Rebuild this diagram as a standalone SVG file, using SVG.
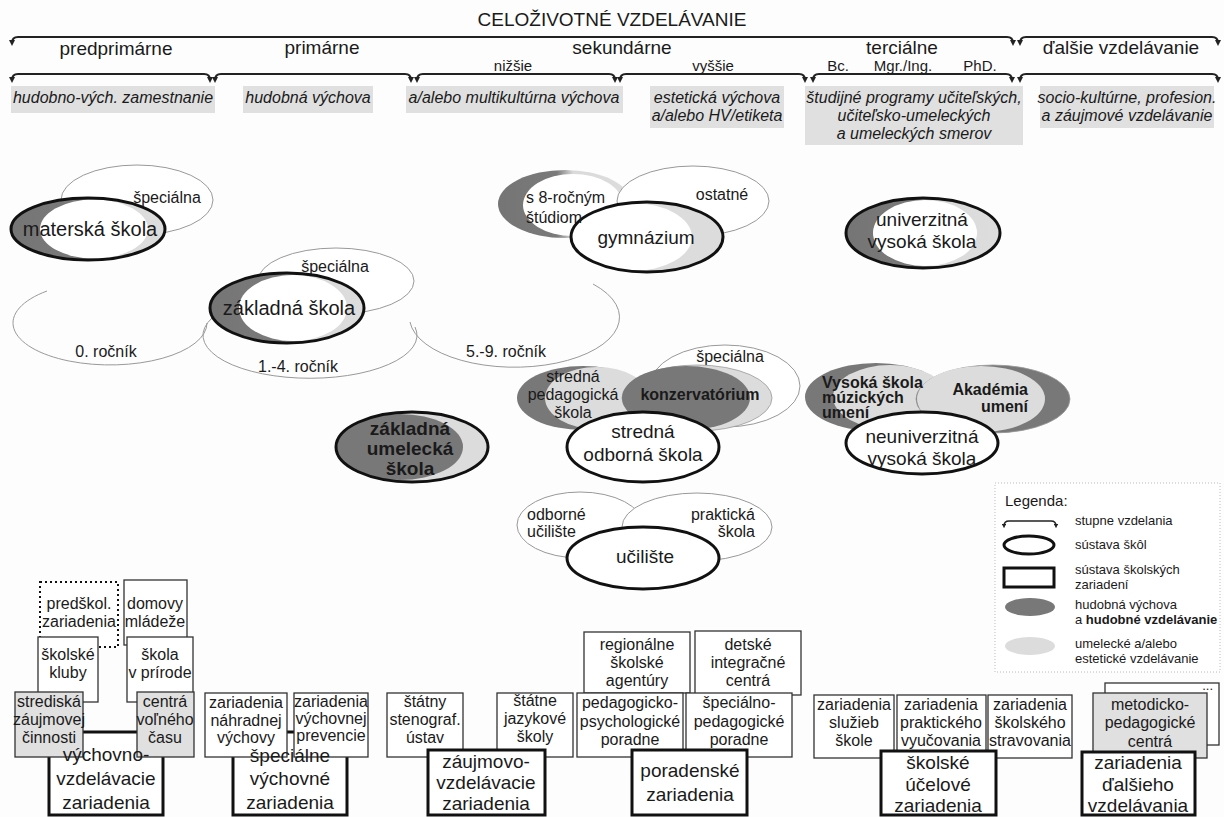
<svg xmlns="http://www.w3.org/2000/svg" width="1224" height="817" viewBox="0 0 1224 817">
<defs>
<style>
text{font-family:"Liberation Sans",Arial,sans-serif;fill:#1a1a1a}
.c{text-anchor:middle}
.e{text-anchor:end}
.h19{font-size:19px}
.h15{font-size:15px}
.i{font-style:italic;font-size:16px;text-anchor:middle}
.s16{font-size:16px}
.s19{font-size:19px;text-anchor:middle}
.s13{font-size:13px}
.b{font-weight:bold}
.brace{fill:none;stroke:#222;stroke-width:2;marker-start:url(#ah);marker-end:url(#ah)}
.band{fill:#e0e0e0}
.thin{fill:#fff;stroke:#999;stroke-width:1}
.arc{fill:none;stroke:#999;stroke-width:1}
.ol{fill:none;stroke:#111;stroke-width:3}
.wb{fill:#fff;stroke:#111;stroke-width:3}
.dark{fill:#787878}
.light{fill:#dcdcdc}
.white{fill:#fff}
.gl{stroke:#999;stroke-width:0.8}
.box{fill:#fff;stroke:#333;stroke-width:1.3}
.gbox{fill:#e0e0e0;stroke:#333;stroke-width:1.3}
.tbox{fill:#fff;stroke:#111;stroke-width:3}
</style>
<marker id="ah" viewBox="0 0 6 6" refX="3" refY="3" markerWidth="3" markerHeight="3" orient="auto-start-reverse"><path d="M0,0 L6,3 L0,6 z" fill="#222"/></marker>
<linearGradient id="dl" x1="0" x2="1" y1="0" y2="0"><stop offset="0" stop-color="#757575"/><stop offset="0.44" stop-color="#7a7a7a"/><stop offset="0.56" stop-color="#dadada"/><stop offset="1" stop-color="#dddddd"/></linearGradient>
</defs>
<rect width="1224" height="817" fill="#fdfdfd"/>

<text x="612" y="26" class="c h19">CELOŽIVOTNÉ VZDELÁVANIE</text>

<g id="connectors">
<path class="brace" d="M12,43 Q12,37 18,37 H1007 Q1013,37 1013,43"/>
<path class="brace" d="M1020,43 Q1020,37 1026,37 H1212 Q1218,37 1218,43"/>
<path class="brace" d="M12,80 Q12,74 18,74 H204 Q210,74 210,80"/>
<path class="brace" d="M215,80 Q215,74 221,74 H405 Q411,74 411,80"/>
<path class="brace" d="M417,80 Q417,74 423,74 H609 Q615,74 615,80"/>
<path class="brace" d="M620,80 Q620,74 626,74 H799 Q805,74 805,80"/>
<path class="brace" d="M813,80 Q813,74 819,74 H1006 Q1012,74 1012,80"/>
<path class="brace" d="M1020,80 Q1020,74 1026,74 H1212 Q1218,74 1218,80"/>
</g>

<g id="levels">
<text x="116" y="55" class="c h19">predprimárne</text>
<text x="322" y="54" class="c h19">primárne</text>
<text x="622" y="54" class="c h19">sekundárne</text>
<text x="902" y="54" class="c h19">terciálne</text>
<text x="1121" y="54" class="c h19">ďalšie vzdelávanie</text>
<text x="513" y="71" class="c h15">nižšie</text>
<text x="713" y="71" class="c h15">vyššie</text>
<text x="838" y="71" class="c h15">Bc.</text>
<text x="903" y="71" class="c h15">Mgr./Ing.</text>
<text x="980" y="71" class="c h15">PhD.</text>
</g>

<g id="bands">
<rect class="band" x="11" y="86" width="204" height="27"/>
<text x="113" y="103" class="i">hudobno-vých. zamestnanie</text>
<rect class="band" x="243" y="86" width="130" height="27"/>
<text x="308" y="103" class="i">hudobná výchova</text>
<rect class="band" x="406" y="86" width="217" height="27"/>
<text x="514" y="103" class="i">a/alebo multikultúrna výchova</text>
<rect class="band" x="650" y="86" width="134" height="42"/>
<text x="717" y="103" class="i">estetická výchova</text>
<text x="717" y="121" class="i">a/alebo HV/etiketa</text>
<rect class="band" x="805" y="86" width="218" height="59"/>
<text x="914" y="103" class="i">študijné programy učiteľských,</text>
<text x="914" y="121" class="i">učiteľsko-umeleckých</text>
<text x="914" y="139" class="i">a umeleckých smerov</text>
<rect class="band" x="1040" y="86" width="174" height="42"/>
<text x="1127" y="103" class="i">socio-kultúrne, profesion.</text>
<text x="1127" y="121" class="i">a záujmové vzdelávanie</text>
</g>

<g id="rocniky">
<path class="arc" d="M47,291 A97,42 0 1 0 207,323"/>
<text x="106" y="357" class="c s16">0. ročník</text>
<path class="arc" d="M212,318 A107,43 0 1 0 415,327"/>
<text x="298" y="372" class="c s16">1.-4. ročník</text>
<path class="arc" d="M593,284 A105,50 0 1 1 410,322"/>
<text x="506" y="357" class="c s16">5.-9. ročník</text>
</g>

<g id="materska">
<ellipse class="thin" cx="137" cy="200" rx="76" ry="35"/>
<text x="167" y="203" class="c s16">špeciálna</text>
<ellipse cx="88" cy="229" rx="77" ry="31" fill="url(#dl)"/>
<ellipse class="white" cx="94" cy="229" rx="54" ry="29.5"/>
<ellipse class="ol" cx="88" cy="229" rx="77" ry="31"/>
<text x="90" y="236" class="c" font-size="20">materská škola</text>
</g>

<g id="zakladna">
<ellipse class="thin" cx="336" cy="281" rx="78" ry="33"/>
<text x="335" y="272" class="c s16">špeciálna</text>
<ellipse cx="287" cy="308" rx="77" ry="35" fill="url(#dl)"/>
<ellipse class="white" cx="293" cy="308" rx="54" ry="33"/>
<ellipse class="ol" cx="287" cy="308" rx="77" ry="35"/>
<text x="289" y="315" class="c" font-size="20">základná škola</text>
</g>

<g id="gymnazium">
<ellipse cx="565" cy="204" rx="67" ry="34" fill="url(#dl)"/>
<ellipse class="white" cx="573" cy="205" rx="50" ry="31"/>
<ellipse class="thin" cx="693" cy="201" rx="76" ry="35"/>
<text x="722" y="200" class="c s16">ostatné</text>
<ellipse class="light" cx="647" cy="237" rx="76" ry="35"/>
<ellipse class="white" cx="632" cy="237" rx="60" ry="34"/>
<ellipse class="ol" cx="647" cy="237" rx="76" ry="35"/>
<text x="646" y="244" class="s19">gymnázium</text>
<text x="526" y="203" class="s16">s 8-ročným</text>
<text x="526" y="223" class="s16">štúdiom</text>
</g>

<g id="univerzitna">
<ellipse cx="923" cy="233" rx="77" ry="35" fill="url(#dl)"/>
<ellipse class="white" cx="925" cy="233" rx="52" ry="33"/>
<ellipse class="ol" cx="923" cy="233" rx="77" ry="35"/>
<text x="922" y="226" class="s19">univerzitná</text>
<text x="922" y="248" class="s19">vysoká škola</text>
</g>

<g id="stredne">
<ellipse class="thin" cx="725" cy="386" rx="75" ry="41"/>
<text x="730" y="362" class="c s16">špeciálna</text>
<ellipse class="dark" cx="583" cy="398" rx="66" ry="32"/>
<ellipse class="light" cx="597" cy="398" rx="52" ry="31"/>
<ellipse class="light gl" cx="697" cy="398" rx="75" ry="33"/>
<ellipse class="dark" cx="686" cy="398" rx="64" ry="32"/>
<text x="573" y="382" class="c s16">stredná</text>
<text x="573" y="400" class="c s16">pedagogická</text>
<text x="573" y="418" class="c s16">škola</text>
<text x="700" y="400" class="c s16 b">konzervatórium</text>
<ellipse class="wb" cx="643" cy="447" rx="76" ry="35"/>
<text x="643" y="438" class="s19">stredná</text>
<text x="643" y="461" class="s19">odborná škola</text>
</g>

<g id="neuniverzitna">
<ellipse class="dark" cx="876" cy="397" rx="71" ry="34"/>
<ellipse class="light" cx="890" cy="397" rx="57" ry="32"/>
<ellipse class="dark gl" cx="993" cy="399" rx="77" ry="34"/>
<ellipse class="light" cx="981" cy="399" rx="64" ry="33"/>
<text x="822" y="388" class="s16 b">Vysoká škola</text>
<text x="822" y="403" class="s16 b">múzických</text>
<text x="822" y="418" class="s16 b">umení</text>
<text x="1028" y="395" class="e s16 b">Akadémia</text>
<text x="1028" y="412" class="e s16 b">umení</text>
<ellipse class="wb" cx="922" cy="443" rx="76" ry="31"/>
<text x="922" y="443" class="s19">neuniverzitná</text>
<text x="922" y="465" class="s19">vysoká škola</text>
</g>

<g id="zus">
<ellipse class="light" cx="412" cy="447" rx="76" ry="35"/>
<ellipse class="dark" cx="400" cy="447" rx="63" ry="33"/>
<ellipse class="ol" cx="412" cy="447" rx="76" ry="35"/>
<text x="410" y="435" class="s19 b">základná</text>
<text x="410" y="455" class="s19 b">umelecká</text>
<text x="410" y="475" class="s19 b">škola</text>
</g>

<g id="uciliste">
<ellipse class="thin" cx="580" cy="525" rx="63" ry="33"/>
<ellipse class="thin" cx="697" cy="527" rx="75" ry="34"/>
<text x="527" y="520" class="s16">odborné</text>
<text x="527" y="537" class="s16">učilište</text>
<text x="755" y="520" class="e s16">praktická</text>
<text x="755" y="537" class="e s16">škola</text>
<ellipse class="wb" cx="643" cy="558" rx="76" ry="31"/>
<text x="645" y="563" class="s19">učilište</text>
</g>

<g id="legend">
<rect x="995" y="483" width="225" height="189" fill="#fff" stroke="#bbb" stroke-width="1" stroke-dasharray="1 2"/>
<text x="1005" y="506" class="h15">Legenda:</text>
<path class="brace" style="stroke-width:1.5" d="M1004,526 Q1004,521 1009,521 H1051 Q1056,521 1056,526"/>
<text x="1075" y="525" class="s13">stupne vzdelania</text>
<ellipse class="ol" cx="1029" cy="545" rx="25" ry="9"/>
<text x="1075" y="549" class="s13">sústava škôl</text>
<rect class="ol" x="1004" y="568" width="50" height="19"/>
<text x="1075" y="574" class="s13">sústava školských</text>
<text x="1075" y="589" class="s13">zariadení</text>
<ellipse class="dark" cx="1030" cy="607" rx="25" ry="9"/>
<text x="1075" y="609" class="s13">hudobná výchova</text>
<text x="1075" y="624" class="s13">a <tspan class="b">hudobné vzdelávanie</tspan></text>
<ellipse class="light" cx="1030" cy="646" rx="25" ry="9"/>
<text x="1075" y="648" class="s13">umelecké a/alebo</text>
<text x="1075" y="663" class="s13">estetické vzdelávanie</text>
</g>

<g id="vychovno">
<rect class="tbox" x="49" y="732" width="114" height="83"/>
<rect x="40" y="582" width="78" height="65" fill="#fff" stroke="#111" stroke-width="2" stroke-dasharray="2 3"/>
<text x="79" y="609" class="c s16">predškol.</text>
<text x="79" y="627" class="c s16">zariadenia</text>
<rect class="box" x="124" y="580" width="63" height="65"/>
<text x="155" y="609" class="c s16">domovy</text>
<text x="155" y="627" class="c s16">mládeže</text>
<rect class="box" x="38" y="637" width="60" height="65"/>
<text x="68" y="660" class="c s16">školské</text>
<text x="68" y="678" class="c s16">kluby</text>
<rect class="box" x="127" y="637" width="66" height="65"/>
<text x="160" y="660" class="c s16">škola</text>
<text x="160" y="678" class="c s16">v prírode</text>
<rect class="gbox" x="15" y="692" width="68" height="65"/>
<text x="49" y="707" class="c s16">strediská</text>
<text x="49" y="725" class="c s16">záujmovej</text>
<text x="49" y="743" class="c s16">činnosti</text>
<rect class="gbox" x="137" y="692" width="57" height="65"/>
<text x="165" y="707" class="c s16">centrá</text>
<text x="165" y="725" class="c s16">voľného</text>
<text x="165" y="743" class="c s16">času</text>
<text x="106" y="761" class="s19">výchovno-</text>
<text x="106" y="785" class="s19">vzdelávacie</text>
<text x="106" y="809" class="s19">zariadenia</text>
</g>

<g id="specialne">
<rect class="tbox" x="233" y="732" width="114" height="83"/>
<rect class="box" x="205" y="693" width="82" height="64"/>
<text x="246" y="708" class="c s16">zariadenia</text>
<text x="246" y="726" class="c s16">náhradnej</text>
<text x="246" y="743" class="c s16">výchovy</text>
<rect class="box" x="294" y="693" width="74" height="64"/>
<text x="331" y="707" class="c s16">zariadenia</text>
<text x="331" y="724" class="c s16">výchovnej</text>
<text x="331" y="741" class="c s16">prevencie</text>
<text x="290" y="762" class="s19">špeciálne</text>
<text x="290" y="785" class="s19">výchovné</text>
<text x="290" y="809" class="s19">zariadenia</text>
</g>

<g id="zaujmovo">
<rect class="box" x="387" y="693" width="76" height="64"/>
<text x="425" y="707" class="c s16">štátny</text>
<text x="425" y="725" class="c s16">stenograf.</text>
<text x="425" y="743" class="c s16">ústav</text>
<rect class="box" x="497" y="693" width="76" height="64"/>
<text x="535" y="706" class="c s16">štátne</text>
<text x="535" y="724" class="c s16">jazykové</text>
<text x="535" y="742" class="c s16">školy</text>
<rect class="tbox" x="428" y="750" width="117" height="65"/>
<text x="486" y="768" class="s19">záujmovo-</text>
<text x="486" y="789" class="s19">vzdelávacie</text>
<text x="486" y="810" class="s19">zariadenia</text>
</g>

<g id="poradenske">
<rect class="box" x="584" y="632" width="106" height="61"/>
<text x="637" y="650" class="c s16">regionálne</text>
<text x="637" y="668" class="c s16">školské</text>
<text x="637" y="686" class="c s16">agentúry</text>
<rect class="box" x="695" y="631" width="106" height="64"/>
<text x="748" y="650" class="c s16">detské</text>
<text x="748" y="668" class="c s16">integračné</text>
<text x="748" y="686" class="c s16">centrá</text>
<rect class="box" x="577" y="693" width="106" height="64"/>
<text x="630" y="708" class="c s16">pedagogicko-</text>
<text x="630" y="727" class="c s16">psychologické</text>
<text x="630" y="745" class="c s16">poradne</text>
<rect class="box" x="686" y="693" width="106" height="64"/>
<text x="739" y="708" class="c s16">špeciálno-</text>
<text x="739" y="727" class="c s16">pedagogické</text>
<text x="739" y="745" class="c s16">poradne</text>
<rect class="tbox" x="632" y="750" width="115" height="65"/>
<text x="690" y="777" class="s19">poradenské</text>
<text x="690" y="801" class="s19">zariadenia</text>
</g>

<g id="ucelove">
<rect class="box" x="814" y="695" width="80" height="63"/>
<text x="854" y="710" class="c s16">zariadenia</text>
<text x="854" y="728" class="c s16">služieb</text>
<text x="854" y="746" class="c s16">škole</text>
<rect class="box" x="897" y="695" width="89" height="63"/>
<text x="941" y="710" class="c s16">zariadenia</text>
<text x="941" y="728" class="c s16">praktického</text>
<text x="941" y="746" class="c s16">vyučovania</text>
<rect class="box" x="988" y="695" width="84" height="63"/>
<text x="1030" y="710" class="c s16">zariadenia</text>
<text x="1030" y="728" class="c s16">školského</text>
<text x="1030" y="746" class="c s16">stravovania</text>
<rect class="tbox" x="881" y="751" width="115" height="64"/>
<text x="938" y="769" class="s19">školské</text>
<text x="938" y="791" class="s19">účelové</text>
<text x="938" y="812" class="s19">zariadenia</text>
</g>

<g id="dalsie">
<rect class="box" x="1105" y="683" width="114" height="62"/>
<text x="1213" y="690" class="e s13">...</text>
<rect class="gbox" x="1093" y="693" width="114" height="65"/>
<text x="1150" y="710" class="c s16">metodicko-</text>
<text x="1150" y="728" class="c s16">pedagogické</text>
<text x="1150" y="747" class="c s16">centrá</text>
<rect class="tbox" x="1082" y="752" width="113" height="63"/>
<text x="1138" y="769" class="s19">zariadenia</text>
<text x="1138" y="791" class="s19">ďalšieho</text>
<text x="1138" y="812" class="s19">vzdelávania</text>
</g>
</svg>
